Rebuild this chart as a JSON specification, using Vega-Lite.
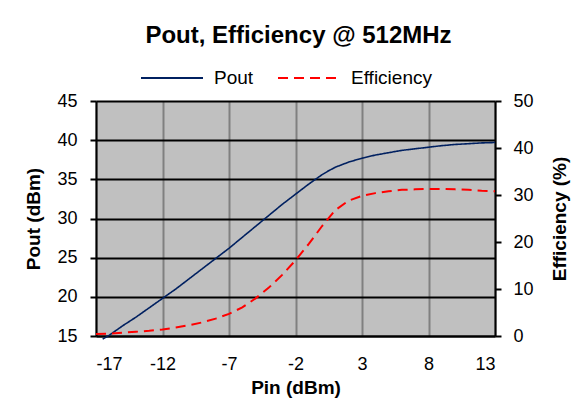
{
  "$schema": "https://vega.github.io/schema/vega-lite/v6.json",
  "autosize": "none",
  "width": 399,
  "height": 235,
  "padding": {"left": 96, "top": 101, "right": 79, "bottom": 74},
  "background": "white",
  "title": {"text": "Pout, Efficiency @ 512MHz", "font": "Liberation Sans", "fontSize": 24, "fontWeight": "bold", "color": "black", "anchor": "middle", "offset": -2, "dx": 3},
  "config": {
    "view": {"fill": "#C0C0C0", "stroke": null},
    "axis": {"labelFont": "Liberation Sans", "labelFontSize": 18, "labelColor": "black", "titleFont": "Liberation Sans", "titleFontSize": 19, "titleFontWeight": "bold", "titleColor": "black", "domainColor": "black", "tickColor": "black"}
  },
  "data": {"values": [
    {"Pin": -16.5, "series": "Pout", "value": 14.6},
    {"Pin": -16, "series": "Pout", "value": 15.1},
    {"Pin": -15, "series": "Pout", "value": 16.3},
    {"Pin": -14, "series": "Pout", "value": 17.4},
    {"Pin": -13, "series": "Pout", "value": 18.6},
    {"Pin": -12, "series": "Pout", "value": 19.8},
    {"Pin": -11, "series": "Pout", "value": 21.0},
    {"Pin": -10, "series": "Pout", "value": 22.3},
    {"Pin": -9, "series": "Pout", "value": 23.6},
    {"Pin": -8, "series": "Pout", "value": 24.9},
    {"Pin": -7, "series": "Pout", "value": 26.2},
    {"Pin": -6, "series": "Pout", "value": 27.6},
    {"Pin": -5, "series": "Pout", "value": 29.0},
    {"Pin": -4, "series": "Pout", "value": 30.4},
    {"Pin": -3, "series": "Pout", "value": 31.8},
    {"Pin": -2, "series": "Pout", "value": 33.1},
    {"Pin": -1, "series": "Pout", "value": 34.4},
    {"Pin": 0, "series": "Pout", "value": 35.6},
    {"Pin": 0.5, "series": "Pout", "value": 36.1},
    {"Pin": 1, "series": "Pout", "value": 36.55},
    {"Pin": 2, "series": "Pout", "value": 37.2},
    {"Pin": 3, "series": "Pout", "value": 37.7},
    {"Pin": 4, "series": "Pout", "value": 38.1},
    {"Pin": 5, "series": "Pout", "value": 38.4},
    {"Pin": 6, "series": "Pout", "value": 38.7},
    {"Pin": 7, "series": "Pout", "value": 38.9},
    {"Pin": 8, "series": "Pout", "value": 39.1},
    {"Pin": 9, "series": "Pout", "value": 39.3},
    {"Pin": 10, "series": "Pout", "value": 39.45},
    {"Pin": 11, "series": "Pout", "value": 39.55},
    {"Pin": 12, "series": "Pout", "value": 39.65},
    {"Pin": 13, "series": "Pout", "value": 39.7},
    {"Pin": -17, "series": "Efficiency", "value": 0.4},
    {"Pin": -16, "series": "Efficiency", "value": 0.5},
    {"Pin": -15, "series": "Efficiency", "value": 0.7},
    {"Pin": -14, "series": "Efficiency", "value": 0.9},
    {"Pin": -13, "series": "Efficiency", "value": 1.1},
    {"Pin": -12, "series": "Efficiency", "value": 1.4},
    {"Pin": -11, "series": "Efficiency", "value": 1.8},
    {"Pin": -10, "series": "Efficiency", "value": 2.3},
    {"Pin": -9, "series": "Efficiency", "value": 2.9},
    {"Pin": -8, "series": "Efficiency", "value": 3.7},
    {"Pin": -7, "series": "Efficiency", "value": 4.7},
    {"Pin": -6, "series": "Efficiency", "value": 6.1},
    {"Pin": -5, "series": "Efficiency", "value": 8.0},
    {"Pin": -4, "series": "Efficiency", "value": 10.3},
    {"Pin": -3, "series": "Efficiency", "value": 13.0},
    {"Pin": -2, "series": "Efficiency", "value": 16.1},
    {"Pin": -1, "series": "Efficiency", "value": 19.6},
    {"Pin": 0, "series": "Efficiency", "value": 23.4},
    {"Pin": 1, "series": "Efficiency", "value": 26.8},
    {"Pin": 2, "series": "Efficiency", "value": 28.8},
    {"Pin": 3, "series": "Efficiency", "value": 29.8},
    {"Pin": 4, "series": "Efficiency", "value": 30.4},
    {"Pin": 5, "series": "Efficiency", "value": 30.8},
    {"Pin": 6, "series": "Efficiency", "value": 31.1},
    {"Pin": 7, "series": "Efficiency", "value": 31.2},
    {"Pin": 8, "series": "Efficiency", "value": 31.3},
    {"Pin": 9, "series": "Efficiency", "value": 31.3},
    {"Pin": 10, "series": "Efficiency", "value": 31.2},
    {"Pin": 11, "series": "Efficiency", "value": 31.1},
    {"Pin": 12, "series": "Efficiency", "value": 30.9},
    {"Pin": 13, "series": "Efficiency", "value": 30.8}
  ]},
  "layer": [
    {
      "transform": [{"filter": "datum.series === 'Pout'"}],
      "mark": {"type": "line", "strokeWidth": 1.6},
      "encoding": {
        "x": {"field": "Pin", "type": "quantitative", "scale": {"domain": [-17, 13], "nice": false, "zero": false},
          "axis": {"values": [-17, -12, -7, -2, 3, 8, 13], "labelExpr": "'' + datum.value", "title": "Pin (dBm)", "grid": true, "gridColor": "#808080", "gridWidth": 2, "ticks": false, "domainWidth": 2, "labelPadding": 19, "titlePadding": 5}},
        "y": {"field": "value", "type": "quantitative", "scale": {"domain": [15, 45], "nice": false, "zero": false},
          "axis": {"orient": "left", "values": [15, 20, 25, 30, 35, 40, 45], "title": "Pout  (dBm)", "grid": true, "gridColor": "black", "gridWidth": 2, "tickSize": 6, "tickWidth": 2, "domainWidth": 2, "labelPadding": 13, "titlePadding": 13}},
        "color": {"field": "series", "type": "nominal", "scale": {"domain": ["Pout", "Efficiency"], "range": ["#002060", "#FF0000"]},
          "legend": {"title": null, "orient": "none", "legendX": 44, "legendY": -55, "direction": "horizontal", "symbolType": "stroke", "symbolSize": 3844, "symbolStrokeWidth": 2, "labelFont": "Liberation Sans", "labelFontSize": 19, "labelColor": "black", "columnPadding": 20, "labelOffset": 10}},
        "strokeDash": {"field": "series", "type": "nominal", "scale": {"domain": ["Pout", "Efficiency"], "range": [[1, 0], [10, 6]]}, "legend": {"title": null}}
      }
    },
    {
      "transform": [{"filter": "datum.series === 'Efficiency'"}],
      "mark": {"type": "line", "strokeWidth": 2},
      "encoding": {
        "x": {"field": "Pin", "type": "quantitative", "scale": {"domain": [-17, 13], "nice": false, "zero": false}},
        "y": {"field": "value", "type": "quantitative", "scale": {"domain": [0, 50], "nice": false, "zero": false},
          "axis": {"orient": "right", "values": [0, 10, 20, 30, 40, 50], "title": "Efficiency (%)", "titleAngle": 270, "titleBaseline": "top", "grid": false, "tickSize": 6, "tickWidth": 2, "domainWidth": 2, "labelPadding": 12, "titlePadding": 17}},
        "color": {"field": "series", "type": "nominal", "scale": {"domain": ["Pout", "Efficiency"], "range": ["#002060", "#FF0000"]}},
        "strokeDash": {"field": "series", "type": "nominal", "scale": {"domain": ["Pout", "Efficiency"], "range": [[1, 0], [10, 6]]}}
      }
    }
  ],
  "resolve": {"scale": {"y": "independent"}}
}
